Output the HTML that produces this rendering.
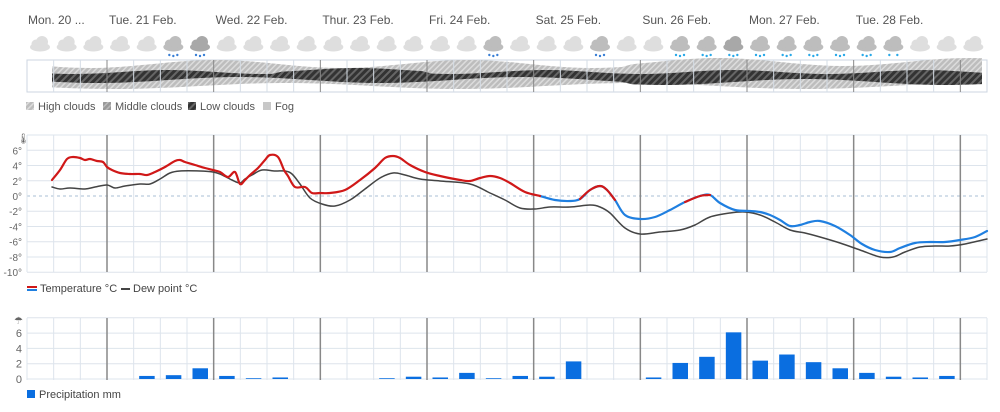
<!DOCTYPE html>
<html><head><meta charset="utf-8"><style>
body{margin:0;background:#fff;width:1000px;height:407px;overflow:hidden;font-family:"Liberation Sans",sans-serif}
svg text{font-family:"Liberation Sans",sans-serif}
</style></head><body>
<svg id="s" width="1000" height="407" xmlns="http://www.w3.org/2000/svg">
<defs>
<pattern id="hd" width="5" height="5" patternUnits="userSpaceOnUse" patternTransform="rotate(45)"><rect width="5" height="5" fill="#333"/><rect width="2" height="5" fill="#666"/></pattern>
<pattern id="hl" width="4" height="4" patternUnits="userSpaceOnUse" patternTransform="rotate(45)"><rect width="4" height="4" fill="#bdbdbd"/><rect width="1.5" height="4" fill="#dcdcdc"/></pattern>
<pattern id="hm" width="4" height="4" patternUnits="userSpaceOnUse" patternTransform="rotate(45)"><rect width="4" height="4" fill="#999"/><rect width="1.5" height="4" fill="#bbb"/></pattern>
</defs>
<g id="g"></g>
</svg>
<script>
var g=document.getElementById('g'),h='';
var X0=27,CW=960/36;
var days=['Mon. 20 ...','Tue. 21 Feb.','Wed. 22 Feb.','Thur. 23 Feb.','Fri. 24 Feb.','Sat. 25 Feb.','Sun. 26 Feb.','Mon. 27 Feb.','Tue. 28 Feb.'];
days.forEach(function(d,i){h+='<text x="'+(i==0?28:X0+80+106.67*(i-1)+2)+'" y="24" font-size="12" fill="#555">'+d+'</text>';});
var dark={5:1,6:2,17:1,21:1,24:1,25:1,26:2,27:1,28:1,29:1,30:1,31:1,32:1};
var rain={5:'r',6:'r',17:'r',21:'r',24:'s',25:'s',26:'s3',27:'s',28:'s',29:'s',30:'s',31:'s',32:'s2'};
for(var i=0;i<36;i++){var cx=X0+13+i*CW,c=dark[i]==2?'#a8a8a8':dark[i]?'#bdbdbd':'#dedede';
h+='<g fill="'+c+'"><ellipse cx="'+cx+'" cy="47" rx="10" ry="4.5"/><circle cx="'+(cx-4)+'" cy="44" r="4.5"/><circle cx="'+(cx+2)+'" cy="42" r="6"/></g>';
if(rain[i]){var col=rain[i]=='r'?'#3a7fd5':'#29a9e8';[-4,0,4].forEach(function(o,k){if(rain[i]=='s2'&&k==1)return;h+='<circle cx="'+(cx+o)+'" cy="'+(55+(k==1?1:0))+'" r="1.2" fill="'+col+'"/>';});}}
h+='<rect x="27" y="60" width="960" height="32" fill="#fff" stroke="#ccd6e0"/>';
function band(top,bot,fill){var p='M',q='';for(var x=25;x<=960;x+=10){var t=top(x),b=bot(x);p+=(X0+x)+','+t+' L';q=' L'+(X0+x)+','+b+q;}h+='<path d="'+p.slice(0,-2)+q.replace(' L','L')+' Z" fill="'+fill+'"/>';}
band(function(x){return 64+4*Math.sin(x/40)+(x>600?-2:0);},function(x){return 86+3*Math.sin(x/55);},'url(#hl)');
band(function(x){return 72+2*Math.sin(x/30)+(x>250&&x<400?-2:0);},function(x){return 80+3*Math.sin(x/45)+(x>600?2:0);},'url(#hd)');
for(var i=1;i<36;i++){var x=X0+i*CW;h+='<line x1="'+x+'" y1="60" x2="'+x+'" y2="92" stroke="'+(i%4==3?'#888':'#d5dde6')+'"/>';}
[['High clouds',26,'url(#hl)'],['Middle clouds',103,'url(#hm)'],['Low clouds',188,'url(#hd)'],['Fog',263,'#c8c8c8']].forEach(function(a){h+='<rect x="'+a[1]+'" y="102" width="8" height="8" fill="'+a[2]+'"/><text x="'+(a[1]+12)+'" y="110" font-size="11" fill="#555">'+a[0]+'</text>';});
function ty(v){return 196-v*7.62;}
for(var v=8;v>=-10;v-=2){h+='<line x1="27" x2="987" y1="'+ty(v)+'" y2="'+ty(v)+'" stroke="'+(v==0?'none':'#dde4ec')+'"/>';if(v<8)h+='<text x="22" y="'+(ty(v)+4)+'" font-size="10" fill="#666" text-anchor="end">'+v+'°</text>';}
h+='<line x1="27" x2="987" y1="196" y2="196" stroke="#a9bfd6" stroke-dasharray="3,3"/>';
h+='<text x="17" y="142" font-size="10" fill="#666">🌡</text>';
for(var i=0;i<=36;i++){var x=X0+i*CW;h+='<line x1="'+x+'" y1="135" x2="'+x+'" y2="272" stroke="'+(i%4==3?'#888':'#dde4ec')+'" stroke-width="'+(i%4==3?1.5:1)+'"/>';}
function pl(pts,col,w){var d='M'+pts[0].join(',');for(var i=0;i<pts.length-1;i++){var p0=pts[i-1]||pts[i],p1=pts[i],p2=pts[i+1],p3=pts[i+2]||p2;
d+=' C'+(p1[0]+(p2[0]-p0[0])/6)+','+(p1[1]+(p2[1]-p0[1])/6)+' '+(p2[0]-(p3[0]-p1[0])/6)+','+(p2[1]-(p3[1]-p1[1])/6)+' '+p2[0]+','+p2[1];}
h+='<path d="'+d+'" fill="none" stroke="'+col+'" stroke-width="'+w+'" stroke-linejoin="round" stroke-linecap="round"/>';}
var red=[[52,180],[60,170],[67,159],[73,157],[80,158],[85,160],[90,159],[97,161],[103,162],[107,167],[112,170],[120,173],[130,174],[140,174],[147,175],[155,172],[165,167],[175,161],[180,160],[185,162],[195,165],[205,168],[213,170],[220,172],[228,177],[235,172],[240,184],[245,180],[250,175],[258,168],[265,160],[270,155],[278,157],[284,170],[288,176],[295,187],[305,187],[312,193],[320,193],[330,193],[345,190],[360,180],[375,168],[385,158],[393,156],[400,158],[410,165],[425,172],[440,176],[460,180],[470,181],[480,178],[490,176],[500,178],[510,183],[525,192],[540,196]];
var blue=[[540,196],[555,200],[570,201],[580,199],[590,190],[600,186],[607,190],[615,200],[625,215],[640,219],[655,217],[670,210],[685,202],[700,196],[710,195],[720,203],[735,210],[750,211],[760,212],[770,215],[780,220],[790,226],[800,225],[810,222],[820,221],[835,226],[850,235],[862,244],[875,250],[890,252],[900,248],[915,243],[930,242],[945,242],[960,240],[975,237],[987,231]];
var dew=[[52,187],[60,189],[70,188],[85,189],[95,187],[107,185],[115,188],[125,186],[140,184],[150,184],[160,179],[170,173],[180,171],[200,171],[213,172],[220,174],[228,178],[232,180],[240,183],[245,179],[252,175],[262,170],[275,171],[285,171],[292,174],[300,184],[310,198],[322,204],[335,206],[350,200],[365,189],[380,178],[393,173],[405,175],[420,179],[440,181],[470,184],[490,193],[505,200],[520,208],[535,209],[550,207],[570,207],[590,205],[600,207],[610,213],[625,228],[640,234],[660,232],[680,230],[695,225],[710,217],[730,213],[745,212],[760,215],[775,222],[790,230],[805,233],[820,237],[840,243],[860,250],[880,257],[893,257],[905,252],[920,247],[935,246],[950,246],[965,244],[987,239]];
pl(dew,'#444',1.5);
pl(blue,'#1f7fe0',2.2);
pl(red,'#d01818',2.2);
pl(blue.slice(3,8),'#d01818',2.2);
pl(blue.slice(12,15),'#d01818',2.2);
h+='<rect x="27" y="286" width="10" height="2" fill="#d01818"/><rect x="27" y="289" width="10" height="2" fill="#1f7fe0"/><text x="40" y="292" font-size="11" fill="#444">Temperature °C</text>';
h+='<rect x="121" y="288" width="9" height="2" fill="#444"/><text x="133" y="292" font-size="11" fill="#444">Dew point °C</text>';
function py(v){return 379-v*7.65;}
for(var v=0;v<=8;v+=2){h+='<line x1="27" x2="987" y1="'+py(v)+'" y2="'+py(v)+'" stroke="#dde4ec"/>';if(v<8)h+='<text x="22" y="'+(py(v)+4)+'" font-size="11" fill="#666" text-anchor="end">'+v+'</text>';}
h+='<text x="14" y="324" font-size="10" fill="#666">☂</text>';
for(var i=0;i<=36;i++){var x=X0+i*CW;h+='<line x1="'+x+'" y1="318" x2="'+x+'" y2="380" stroke="'+(i%4==3?'#888':'#dde4ec')+'" stroke-width="'+(i%4==3?1.5:1)+'"/>';}
var pr={4:.4,5:.5,6:1.4,7:.4,8:.1,9:.2,13:.1,14:.3,15:.2,16:.8,17:.1,18:.4,19:.3,20:2.3,23:.2,24:2.1,25:2.9,26:6.1,27:2.4,28:3.2,29:2.2,30:1.4,31:.8,32:.3,33:.2,34:.4};
for(var k in pr){var x=X0+k*CW+5.5,v=pr[k];h+='<rect x="'+x+'" y="'+py(v)+'" width="15.5" height="'+(v*7.65)+'" fill="#0a6ee0"/>';}
h+='<rect x="27" y="390" width="8" height="8" fill="#0a6ee0"/><text x="39" y="398" font-size="11" fill="#444">Precipitation mm</text>';
g.innerHTML=h;
</script>
</body></html>
